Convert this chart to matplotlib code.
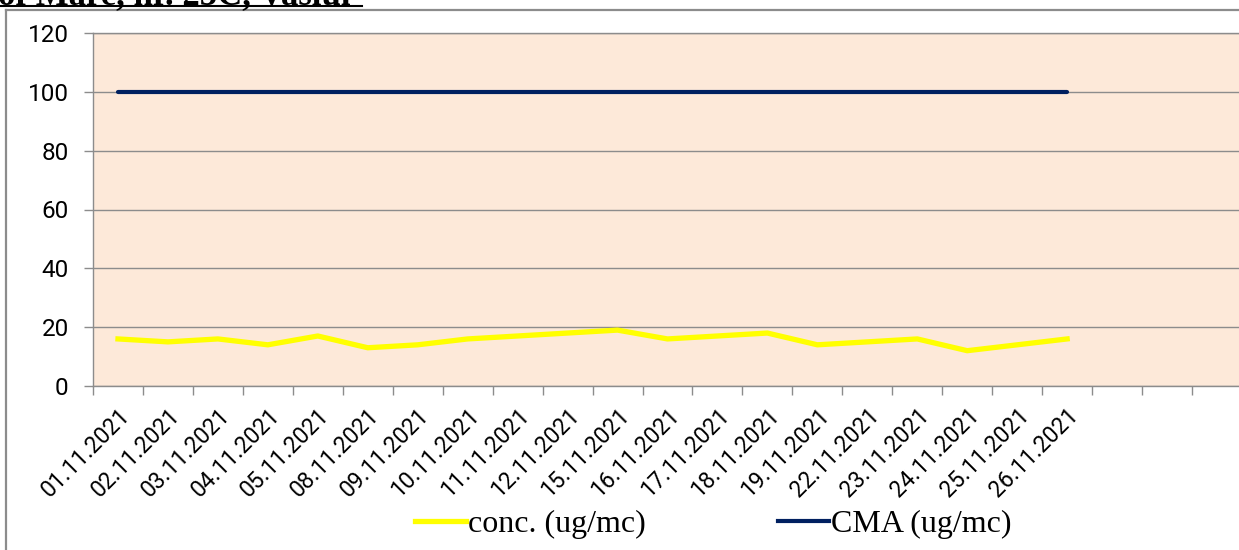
import matplotlib.pyplot as plt
from matplotlib.lines import Line2D

# categories (dates) and values
dates = ["01.11.2021", "02.11.2021", "03.11.2021", "04.11.2021", "05.11.2021",
         "08.11.2021", "09.11.2021", "10.11.2021", "11.11.2021", "12.11.2021",
         "15.11.2021", "16.11.2021", "17.11.2021", "18.11.2021", "19.11.2021",
         "22.11.2021", "23.11.2021", "24.11.2021", "25.11.2021", "26.11.2021"]
conc = [16, 15, 16, 14, 17, 13, 14, 16, 17, 18,
        19, 16, 17, 18, 14, 15, 16, 12, 14, 16]
cma = [100] * len(dates)
n_slots = 23  # empty categories after the last date
y_ticks = [0, 20, 40, 60, 80, 100, 120]

YELLOW = "#FFFF00"
NAVY = "#002060"
PEACH = "#FDE9D9"
GRID = "#8C8C8C"
W, H = 1239, 550

fig = plt.figure(figsize=(W / 100, H / 100), dpi=100)
ax = fig.add_axes([93 / W, 1 - 386 / H, (1242 - 93) / W, (386 - 33) / H])
ax.set_facecolor(PEACH)

x = list(range(len(dates)))
ax.plot(x, conc, color=YELLOW, lw=3.8, solid_joinstyle="round", zorder=3)
ax.plot(x, cma, color=NAVY, lw=3.0, solid_capstyle="round", zorder=3)

ax.set_xlim(-0.5, n_slots - 0.5)
ax.set_ylim(0, 120)
ax.set_yticks(y_ticks)
ax.grid(axis="y", color=GRID, lw=1.0, zorder=1)
ax.set_axisbelow(True)

ax.set_xticks(x)
ax.set_xticklabels(dates, rotation=45, ha="right", rotation_mode="anchor",
                   fontsize=16.5, family="Roboto")
ax.set_xticks([i - 0.5 for i in range(n_slots + 1)], minor=True)
ax.tick_params(axis="x", which="major", length=0, pad=13)
ax.tick_params(axis="x", which="minor", length=6.5, color=GRID, width=1)
ax.tick_params(axis="y", length=6.5, color=GRID, width=1, pad=11)
for lbl in ax.get_yticklabels():
    lbl.set_fontsize(17.5)
    lbl.set_family("Roboto")

for s in ["left", "bottom", "top"]:
    ax.spines[s].set_color(GRID)
    ax.spines[s].set_linewidth(1.0)
ax.spines["right"].set_visible(False)

# outer chart frame (cropped)
fig.add_artist(Line2D([6 / W, 6 / W], [0, 1 - 10 / H], color="#8C8C8C", lw=1.6))
fig.add_artist(Line2D([6 / W, 1], [1 - 10 / H, 1 - 10 / H], color="#8C8C8C", lw=1.6))

# cropped heading above chart
fig.text(-2 / W, 1 - 4 / H, "of Mare, nr. 25C, Vaslui", family="Liberation Serif",
         fontsize=25, fontweight="bold", ha="left", va="baseline")
fig.add_artist(Line2D([0, 362 / W], [1 - 6 / H, 1 - 6 / H], color="black", lw=1.5))

handles = [Line2D([], [], color=YELLOW, lw=3.8), Line2D([], [], color=NAVY, lw=3.0)]
fig.legend(handles, ["conc. (ug/mc)", "CMA (ug/mc)"], loc="center left",
           bbox_to_anchor=(415 / W, 1 - 524 / H), ncol=2, frameon=False,
           prop={"family": "Liberation Serif", "size": 23},
           handlelength=1.6, handletextpad=0.05, columnspacing=4.15,
           borderpad=0, borderaxespad=0)

fig.savefig("out.png", dpi=100)
